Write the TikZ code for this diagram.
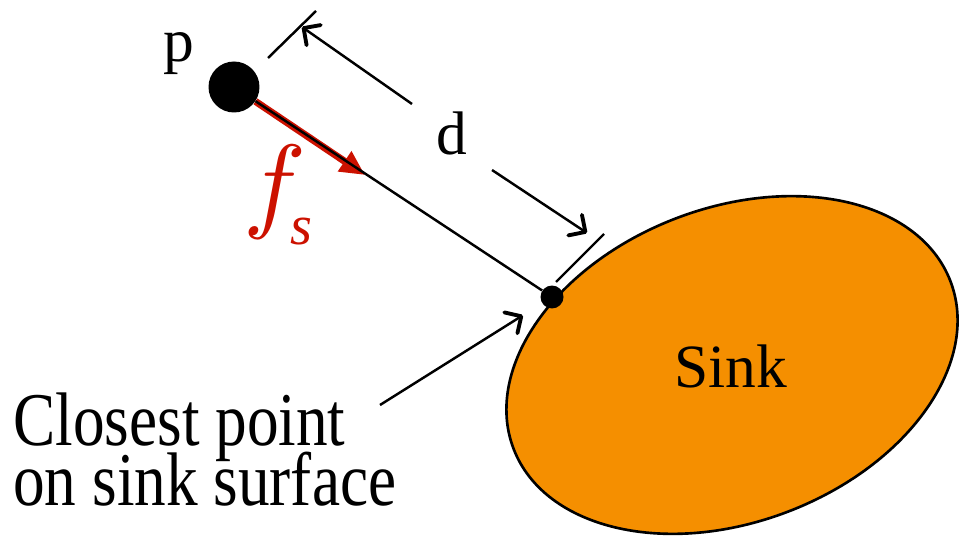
\documentclass[tikz,border=0pt]{standalone}
\usepackage{fontspec}
\usepackage{unicode-math}
\setmainfont{Liberation Serif}
\setmathfont{Latin Modern Math}
\usepackage{graphicx}
\usetikzlibrary{arrows.meta,shapes.geometric}

\definecolor{sinkorange}{RGB}{245,143,0}
\definecolor{forcered}{RGB}{204,17,0}
\newcommand{\tallbox}[1]{\scalebox{1}[1.2]{#1}}

\begin{document}
\begin{tikzpicture}[
    x=0.02cm, y=-0.02cm,
    dot/.style={circle, fill=black, inner sep=0pt},
    sinkshape/.style={draw, ellipse, fill=sinkorange, line width=1.5pt, inner sep=0pt, minimum width=9.36cm, minimum height=6.28cm},
    label/.style={inner sep=0pt, anchor=base, font=\fontsize{35}{35}\selectfont},
    note/.style={inner sep=0pt, anchor=base west, font=\fontsize{36}{36}\selectfont},
    conn/.style={line width=1.4pt},
    pointer/.style={-{Straight Barb[length=7pt, width=14pt, line width=2.2pt, round]}, line width=1.4pt},
    force/.style={-{Triangle[length=14pt, width=13pt]}, draw=forcered, line width=4pt}
]
    \useasboundingbox (0,0) rectangle (959,536);

    % Sink
    \node[sinkshape, rotate=21] (sink) at (732,365) {};
    \node[label] (sinklabel) at (731,387) {Sink};

    % Particle and closest point
    \node[dot, minimum size=1.02cm] (p) at (234,87) {};
    \node[dot, minimum size=0.46cm] (cp) at (552,297) {};
    \node[label] (plabel) at (179,62) {p};

    % Force
    \coordinate (ftip) at (365,175);
    \draw[force] (p) -- (ftip);
    \draw[conn] (p) -- (cp);
    \node[inner sep=0pt, anchor=base west, text=forcered] (fslabel) at (243,219)
        {\fontsize{60}{60}\selectfont$f$\hspace{-8pt}\raisebox{-14.5pt}{\fontsize{32}{32}\selectfont\itshape s}};

    % Distance
    \coordinate (tickA1) at (268,58);
    \coordinate (tickA2) at (316,11);
    \coordinate (tickB1) at (556,282);
    \coordinate (tickB2) at (604,234);
    \coordinate (dA) at (302,27);
    \coordinate (dB) at (587,233);
    \coordinate (dtailA) at (412,104);
    \coordinate (dtailB) at (492,170);
    \draw[conn] (tickA1) -- (tickA2);
    \draw[conn] (tickB1) -- (tickB2);
    \draw[pointer] (dtailA) -- (dA);
    \draw[pointer] (dtailB) -- (dB);
    \node[label] (dlabel) at (452,155) {d};

    % Closest point label
    \node[note] (closestA) at (13,445) {\tallbox{Closest point}};
    \node[note] (closestB) at (13,505) {\tallbox{on sink surface}};
    \coordinate (ptail) at (380,405);
    \draw[pointer, shorten >=0.45cm] (ptail) -- (cp);
\end{tikzpicture}
\end{document}
